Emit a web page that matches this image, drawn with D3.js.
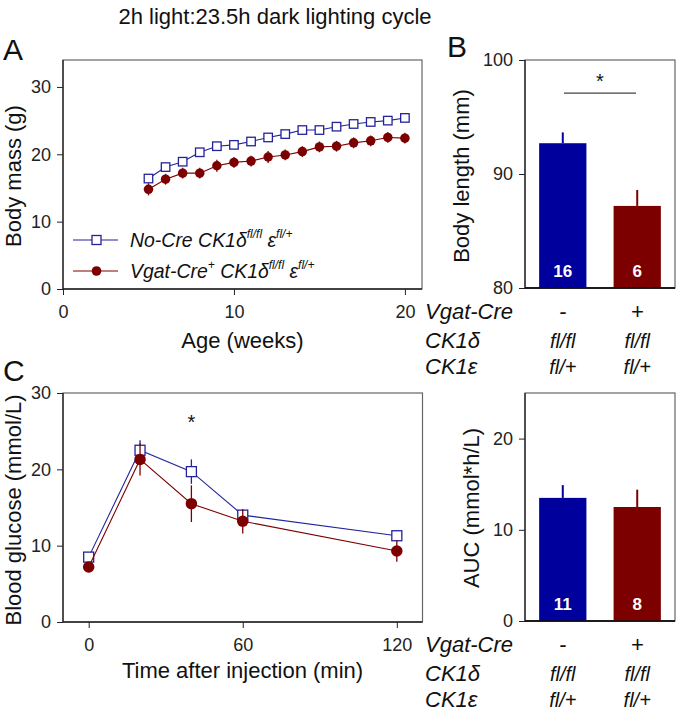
<!DOCTYPE html>
<html><head><meta charset="utf-8">
<script src="https://cdn.jsdelivr.net/npm/d3@7"></script>
<style>body{margin:0;background:#fff} svg{font-family:Arial,"Liberation Sans",sans-serif;display:block}</style>
</head><body><svg id="c" width="677" height="713"></svg>
<script>
// ---------- data ----------
const weeks = [5,6,7,8,9,10,11,12,13,14,15,16,17,18,19,20];
const massNoCre = [16.4,18.1,18.9,20.3,21.2,21.4,21.9,22.5,23.0,23.6,23.6,24.1,24.5,24.8,25.0,25.4];
const massNoCreErr = [0.5,0.5,0.5,0.5,0.5,0.5,0.5,0.5,0.5,0.5,0.5,0.5,0.5,0.5,0.5,0.5];
const massVgat = [14.8,16.3,17.2,17.2,18.3,18.8,19.0,19.6,19.9,20.4,21.1,21.2,21.7,22.0,22.5,22.4];
const massVgatErr = [0.9,0.8,0.8,0.8,0.9,0.8,0.8,0.9,0.8,0.8,0.8,0.8,0.8,0.8,0.8,0.8];
const massXTicks = [0,10,20];
const massYTicks = [0,10,20,30];

const glucTimes = [0,20,40,60,120];
const glucNoCre = [8.5,22.5,19.7,14.0,11.3];
const glucNoCreErr = [0.5,1.3,1.6,0.6,0.7];
const glucVgat = [7.2,21.3,15.5,13.2,9.3];
const glucVgatErr = [0.4,2.1,2.4,1.6,1.4];
const glucXTicks = [0,60,120];
const glucYTicks = [0,10,20,30];

const groups = ["NoCre","Vgat"];
const bodyLength = [92.7,87.2];
const bodyLengthErr = [0.95,1.4];
const bodyLengthN = ["16","6"];
const lengthTicks = [80,90,100];

const auc = [13.5,12.5];
const aucErr = [1.4,1.9];
const aucN = ["11","8"];
const aucTicks = [0,10,20];

const rowLabels = ["Vgat-Cre","CK1\u03b4","CK1\u03b5"];
const rowValues = [["-","+"],["fl/fl","fl/fl"],["fl/+","fl/+"]];

// ---------- style ----------
const BLUE_LINE = "#23239b", RED = "#7d0000", BLUE_BAR = "#00009c";
const svg = d3.select("#c");
const TICKFS = 18, TITLEFS = 22;

svg.append("text").attr("x",275).attr("y",24).attr("text-anchor","middle")
  .attr("font-size",22).attr("fill","#111").text("2h light:23.5h dark lighting cycle");

function frame(x0,x1,y0,y1){
  svg.append("rect").attr("x",x0).attr("y",y0).attr("width",x1-x0).attr("height",y1-y0)
    .attr("fill","none").attr("stroke","#666").attr("stroke-width",1.2);
  svg.append("line").attr("x1",x0).attr("x2",x0).attr("y1",y0).attr("y2",y1).attr("stroke","#222").attr("stroke-width",1.3);
  svg.append("line").attr("x1",x0).attr("x2",x1).attr("y1",y1).attr("y2",y1).attr("stroke","#222").attr("stroke-width",1.3);
}
function yAxis(scale,x,ticks){
  const g = svg.append("g").attr("transform",`translate(${x},0)`)
    .call(d3.axisLeft(scale).tickValues(ticks).tickSize(6).tickPadding(6).tickFormat(d3.format("d")));
  g.select(".domain").remove();
  g.selectAll("line").attr("stroke","#222");
  g.selectAll("text").attr("font-size",TICKFS).attr("fill","#222").attr("font-family","Arial, 'Liberation Sans', sans-serif");
}
function xAxis(scale,y,ticks){
  const g = svg.append("g").attr("transform",`translate(0,${y})`)
    .call(d3.axisBottom(scale).tickValues(ticks).tickSize(6).tickPadding(10).tickFormat(d3.format("d")));
  g.select(".domain").remove();
  g.selectAll("line").attr("stroke","#222");
  g.selectAll("text").attr("font-size",TICKFS).attr("fill","#222").attr("font-family","Arial, 'Liberation Sans', sans-serif");
}
function vTitle(txt,x,y){
  svg.append("text").attr("transform",`translate(${x},${y}) rotate(-90)`).attr("text-anchor","middle")
    .attr("font-size",TITLEFS).attr("fill","#111").text(txt);
}
function panelLabel(t,x,y){
  svg.append("text").attr("x",x).attr("y",y).attr("font-size",30).attr("fill","#111").text(t);
}

// ---------- Panel A ----------
const xA = d3.scaleLinear().domain([0,21]).range([63,422]);
const yA = d3.scaleLinear().domain([0,34]).range([289,60]);
frame(63,422,60,289);
yAxis(yA,63,massYTicks); xAxis(xA,289,massXTicks);
vTitle("Body mass (g)",21,176);
svg.append("text").attr("x",242.5).attr("y",348).attr("text-anchor","middle").attr("font-size",TITLEFS).attr("fill","#111").text("Age (weeks)");
panelLabel("A",3,60);

function series(xs,ys,errs,xS,yS,color,shape,size){
  const line = d3.line().x((d,i)=>xS(xs[i])).y(d=>yS(d));
  svg.append("path").datum(ys).attr("d",line).attr("fill","none").attr("stroke",color).attr("stroke-width",1.1);
  svg.append("g").selectAll("line").data(ys).join("line")
    .attr("x1",(d,i)=>xS(xs[i])).attr("x2",(d,i)=>xS(xs[i]))
    .attr("y1",(d,i)=>yS(d-errs[i])).attr("y2",(d,i)=>yS(d+errs[i]))
    .attr("stroke",color).attr("stroke-width",1.3);
  const g = svg.append("g");
  if(shape==="square"){
    g.selectAll("rect").data(ys).join("rect")
      .attr("x",(d,i)=>xS(xs[i])-size/2).attr("y",d=>yS(d)-size/2).attr("width",size).attr("height",size)
      .attr("fill","#fff").attr("stroke",color).attr("stroke-width",1.3);
  } else {
    g.selectAll("circle").data(ys).join("circle")
      .attr("cx",(d,i)=>xS(xs[i])).attr("cy",d=>yS(d)).attr("r",size/2).attr("fill",color);
  }
}
series(weeks,massNoCre,massNoCreErr,xA,yA,BLUE_LINE,"square",8.5);
series(weeks,massVgat,massVgatErr,xA,yA,RED,"circle",9.5);

// legend
function legendRow(y,color,shape,parts,targetW){
  svg.append("line").attr("x1",73).attr("x2",118).attr("y1",y).attr("y2",y).attr("stroke",color).attr("stroke-width",1.1);
  if(shape==="square") svg.append("rect").attr("x",92).attr("y",y-4.5).attr("width",9).attr("height",9).attr("fill","#fff").attr("stroke",color).attr("stroke-width",1.3);
  else svg.append("circle").attr("cx",96.5).attr("cy",y).attr("r",4.8).attr("fill",color);
  const t = svg.append("text").attr("font-size",21).attr("font-style","italic").attr("fill","#111");
  parts.forEach(p=>{
    const ts = t.append("tspan").text(p.t);
    if(p.sup){ ts.attr("font-size",13).attr("baseline-shift","70%"); }
  });
  const w = t.node().getBBox().width;
  t.attr("transform",`translate(130,${y+7}) scale(${targetW/w},1)`);
}
legendRow(240,BLUE_LINE,"square",[{t:"No-Cre CK1\u03b4"},{t:"fl/fl",sup:1},{t:" \u03b5"},{t:"fl/+",sup:1}],163);
legendRow(271,RED,"circle",[{t:"Vgat-Cre"},{t:"+",sup:1},{t:" CK1\u03b4"},{t:"fl/fl",sup:1},{t:" \u03b5"},{t:"fl/+",sup:1}],185);

// ---------- bar panels ----------
const xBar = d3.scaleBand().domain(groups).range([525,675]).paddingInner(0.365).paddingOuter(0.19);
const barColors = [BLUE_BAR, RED];
function barPanel(vals,errs,ns,yS,y0,y1,ticks,base){
  frame(525,675,y0,y1);
  yAxis(yS,525,ticks);
  svg.append("g").selectAll("line").data(vals).join("line")
    .attr("x1",(d,i)=>xBar(groups[i])+xBar.bandwidth()/2).attr("x2",(d,i)=>xBar(groups[i])+xBar.bandwidth()/2)
    .attr("y1",d=>yS(d)).attr("y2",(d,i)=>yS(d+errs[i])).attr("stroke",(d,i)=>barColors[i]).attr("stroke-width",2);
  svg.append("g").selectAll("rect").data(vals).join("rect")
    .attr("x",(d,i)=>xBar(groups[i])).attr("width",xBar.bandwidth())
    .attr("y",d=>yS(d)).attr("height",d=>yS(base)-yS(d)).attr("fill",(d,i)=>barColors[i]);
  svg.append("g").selectAll("text").data(ns).join("text")
    .attr("x",(d,i)=>xBar(groups[i])+xBar.bandwidth()/2).attr("y",y1-11).attr("text-anchor","middle")
    .attr("font-size",17).attr("font-weight","bold").attr("fill","#fff").text(d=>d);
  svg.append("line").attr("x1",525).attr("x2",675).attr("y1",y1).attr("y2",y1).attr("stroke","#111").attr("stroke-width",1.6);
}
function table(y0){
  const ys=[y0,y0+29,y0+55];
  const colX=groups.map(g=>xBar(g)+xBar.bandwidth()/2);
  rowLabels.forEach((r,i)=>{
    svg.append("text").attr("x",425).attr("y",ys[i]).attr("font-size",22).attr("font-style","italic").attr("fill","#111").text(r);
    rowValues[i].forEach((v,j)=>{
      svg.append("text").attr("x",colX[j]).attr("y",ys[i]).attr("text-anchor","middle")
        .attr("font-size",i===0?22:20).attr("font-style","italic").attr("fill","#111").text(v);
    });
  });
}

// Panel B
const yB = d3.scaleLinear().domain([80,100]).range([288,60]);
barPanel(bodyLength,bodyLengthErr,bodyLengthN,yB,60,288,lengthTicks,80);
vTitle("Body length (mm)",469,176);
panelLabel("B",447,57);
svg.append("line").attr("x1",564).attr("x2",636).attr("y1",yB(97.1)).attr("y2",yB(97.1)).attr("stroke","#444").attr("stroke-width",1.3);
svg.append("text").attr("x",600).attr("y",yB(97.1)-5).attr("text-anchor","middle").attr("font-size",20).attr("fill","#111").text("*");
table(319);

// ---------- Panel C ----------
const xC = d3.scaleLinear().domain([-10,130]).range([63,422.5]);
const yC = d3.scaleLinear().domain([0,30]).range([622,393]);
frame(63,422.5,393,622);
yAxis(yC,63,glucYTicks); xAxis(xC,622,glucXTicks);
vTitle("Blood glucose (mmol/L)",21,510);
svg.append("text").attr("x",242.5).attr("y",678).attr("text-anchor","middle").attr("font-size",TITLEFS).attr("fill","#111").text("Time after injection (min)");
panelLabel("C",3,381);
series(glucTimes,glucNoCre,glucNoCreErr,xC,yC,BLUE_LINE,"square",10);
series(glucTimes,glucVgat,glucVgatErr,xC,yC,RED,"circle",11.5);
svg.append("text").attr("x",xC(40)).attr("y",yC(25.3)).attr("text-anchor","middle").attr("font-size",20).attr("fill","#111").text("*");

// ---------- Panel D ----------
const yD = d3.scaleLinear().domain([0,25]).range([621,393]);
barPanel(auc,aucErr,aucN,yD,393,621,aucTicks,0);
vTitle("AUC (mmol*h/L)",479,508);
table(652);
</script></body></html>
